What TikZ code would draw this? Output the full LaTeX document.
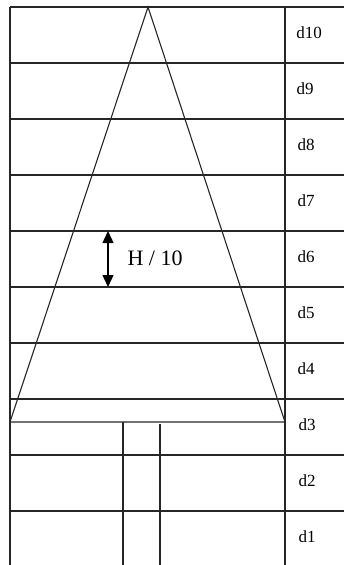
\documentclass[tikz,border=0pt]{standalone}
\usepackage{fontspec}
\setmainfont{Liberation Serif}
\usetikzlibrary{arrows.meta}
\begin{document}
\begin{tikzpicture}[x=1pt,y=-1pt,
  rule/.style={line width=1.1pt,draw=black!85},
  lab/.style={font=\fontsize{17}{19}\selectfont,inner sep=0pt},
  dim/.style={line width=1.3pt,{Triangle[width=11pt,length=12pt]}-{Triangle[width=11pt,length=12pt]}}]
\useasboundingbox (0,0) rectangle (344,565);
% grid
\foreach \y in {7,63,119,175,231,287,343,399,455,511}
  \draw[rule] (10,\y) -- (344,\y);
\draw[rule] (10,7) -- (10,565);
\draw[rule] (285,7) -- (285,565);
% tree
\coordinate (apex) at (148,7);
\coordinate (bl) at (10,422);
\coordinate (br) at (285,422);
\draw[rule] (bl) -- (apex) -- (br) -- cycle;
\draw[rule] (123,422) -- (123,565);
\draw[rule] (160,424) -- (160,565);
% labels
\node[lab] (d10) at (309,33) {d10};
\node[lab] (d9) at (305,89) {d9};
\node[lab] (d8) at (306,145) {d8};
\node[lab] (d7) at (306,201) {d7};
\node[lab] (d6) at (306,257) {d6};
\node[lab] (d5) at (306,313) {d5};
\node[lab] (d4) at (306,369) {d4};
\node[lab] (d3) at (307,425) {d3};
\node[lab] (d2) at (307,481) {d2};
\node[lab] (d1) at (307,537) {d1};
% dimension
\coordinate (at) at (108,231);
\coordinate (ab) at (108,287);
\draw[dim] (at) -- (ab);
\node[font=\fontsize{22}{24}\selectfont,inner sep=0pt] (h) at (155,258) {H / 10};
\end{tikzpicture}
\end{document}
